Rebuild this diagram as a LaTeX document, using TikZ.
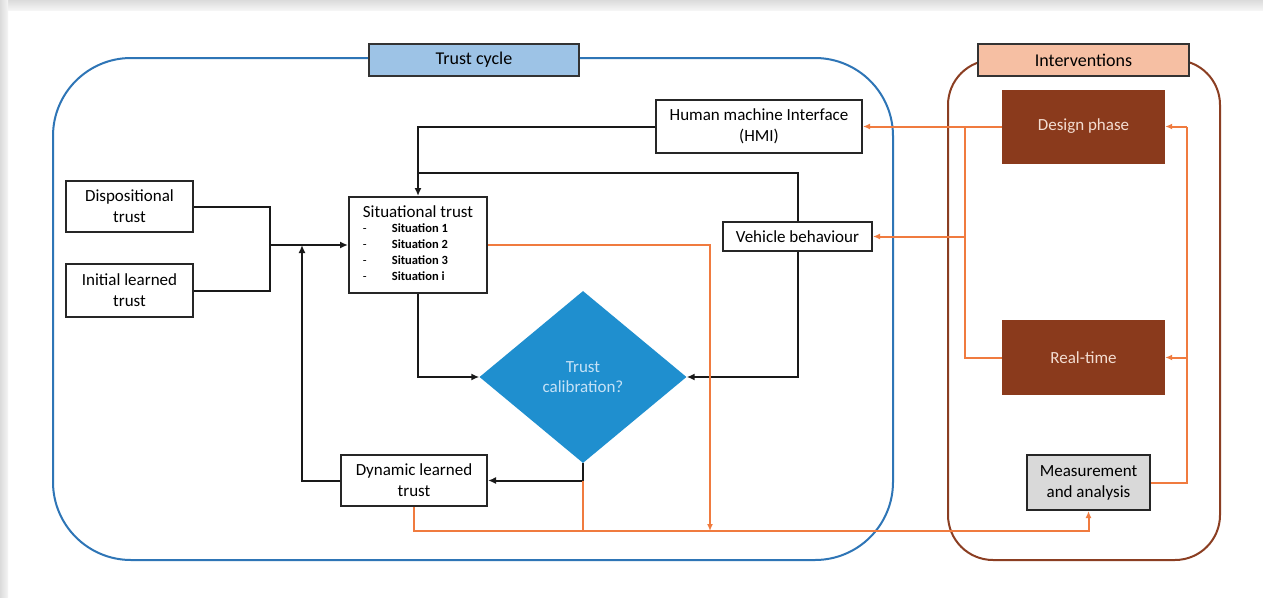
\documentclass[tikz,border=0pt]{standalone}
\usepackage{fontspec}
\setmainfont{Carlito}
\usetikzlibrary{positioning,shapes.geometric,arrows.meta}
\definecolor{cycleblue}{HTML}{2E75B6}
\definecolor{cyclefill}{HTML}{9DC3E6}
\definecolor{intbrown}{HTML}{8B3E22}
\definecolor{intfill}{HTML}{F6BFA3}
\definecolor{phasefill}{HTML}{8A3A1C}
\definecolor{phasetext}{HTML}{F3DDD2}
\definecolor{calibfill}{HTML}{1F8FCF}
\definecolor{calibtext}{HTML}{C6E2F6}
\definecolor{linkorange}{HTML}{F07B3F}
\definecolor{measfill}{HTML}{D9D9D9}

\tikzset{
  box/.style={draw=black!85, line width=2pt, fill=white, align=center,
    font=\fontsize{17}{21}\selectfont, inner sep=1pt},
  framelabel/.style={draw=black!80, line width=2pt, align=center,
    font=\fontsize{18}{21}\selectfont, minimum height=32, inner sep=1pt},
  phasebox/.style={fill=phasefill, text=phasetext, align=center,
    font=\fontsize{17}{21}\selectfont, minimum width=163, minimum height=75},
  blk/.style={draw=black!90, line width=2pt},
  org/.style={draw=linkorange, line width=2pt},
  tip/.style={-{Latex[length=8pt,width=7pt]}},
  otip/.style={-{Latex[length=7pt,width=6pt]}}
}

\begin{document}
\begin{tikzpicture}[x=1pt,y=-1pt]
    \useasboundingbox (0,0) rectangle (1263,597);
    % page card with shadow
    \fill[white] (0,0) rectangle (1263,597);
    \shade[top color=black!14, bottom color=black!4] (0,0) rectangle (1263,10);
    \shade[left color=black!14, right color=black!4] (0,0) rectangle (8,597);

    % Trust cycle frame
    \draw[cycleblue, line width=2pt, rounded corners=78] (53,58) rectangle (893,560);
    \node[framelabel, fill=cyclefill, minimum width=210] (cyclelabel) at (474,60) {Trust cycle};

    % Interventions frame
    \draw[intbrown, line width=2pt, rounded corners=45] (948,60) rectangle (1220,560);
    \node[framelabel, fill=intfill, minimum width=211] (intlabel) at (1083.5,60) {Interventions};

    % Trust cycle nodes
    \node[box, minimum width=127, minimum height=51] (disp) at (129.5,206.5) {Dispositional\\trust};
    \node[box, minimum width=127, minimum height=53] (init) at (129.5,290.5) {Initial learned\\trust};
    \node[box, minimum width=138, minimum height=96, inner sep=0pt,
          font=\fontsize{12.5}{16}\selectfont] (sit) at (418,245) {%
        \begin{tabular}{@{}p{29pt}@{}l@{}}
        \multicolumn{2}{@{}c@{}}{\fontsize{17}{20}\selectfont Situational trust}\\[-1pt]
        - & \bfseries Situation 1\\
        - & \bfseries Situation 2\\
        - & \bfseries Situation 3\\
        - & \bfseries Situation i
        \end{tabular}};
    \node[box, minimum width=206, minimum height=53] (hmi) at (759,126.5) {Human machine Interface\\(HMI)};
    \node[box, minimum width=149, minimum height=29] (veh) at (797.5,236.5) {Vehicle behaviour};
    \node[diamond, fill=calibfill, text=calibtext, aspect=1.2, inner sep=0pt,
          minimum width=207, minimum height=172, align=center,
          font=\fontsize{17}{20}\selectfont] (calib) at (583,377) {Trust\\calibration?};
    \node[box, minimum width=146, minimum height=51] (dyn) at (414,480.5) {Dynamic learned\\trust};

    % Interventions nodes
    \node[phasebox, minimum height=74] (design) at (1083.5,126.5) {Design phase};
    \node[phasebox] (realtime) at (1083.5,357.5) {Real-time};
    \node[box, fill=measfill, minimum width=123, minimum height=55] (meas) at (1088.5,482.5) {Measurement\\and analysis};

    % helper coordinates
    \coordinate (merge) at (270,245);
    \coordinate (feedback) at (302,245);
    \coordinate (vehtop) at (418,173);
    \coordinate (drop) at (710,531);
    \coordinate (bus) at (583,531);
    \coordinate (trunk) at (965,126.5);
    \coordinate (trunkveh) at (965,236.5);
    \coordinate (returntop) at (1187,126.5);
    \coordinate (returnmid) at (1187,357.5);

    % black links
    \draw[blk] (disp.east) -| (merge) |- (init.east);
    \draw[blk, tip] (merge) -- (sit.west);
    \draw[blk, tip] (dyn.west) -| (feedback);
    \draw[blk, tip] (hmi.west) -| (sit.north);
    \draw[blk] (veh.north) |- (vehtop);
    \draw[blk, tip] (sit.south) |- (calib.west);
    \draw[blk, tip] (veh.south) |- (calib.east);
    \draw[blk, tip] (calib.south) |- (dyn.east);

    % orange links
    \draw[org, otip] (sit.east) -| (drop);
    \draw[org] (calib.south |- dyn.east) -- (bus);
    \draw[org, otip] (dyn.south) |- (bus) -| (meas.south);
    \draw[org, otip] (design.west) -- (hmi.east);
    \draw[org] (realtime.west) -| (trunk);
    \draw[org, otip] (trunkveh) -- (veh.east);
    \draw[org] (meas.east) -| (returntop);
    \draw[org, otip] (returntop) -- (design.east);
    \draw[org, otip] (returnmid) -- (realtime.east);
\end{tikzpicture}
\end{document}
